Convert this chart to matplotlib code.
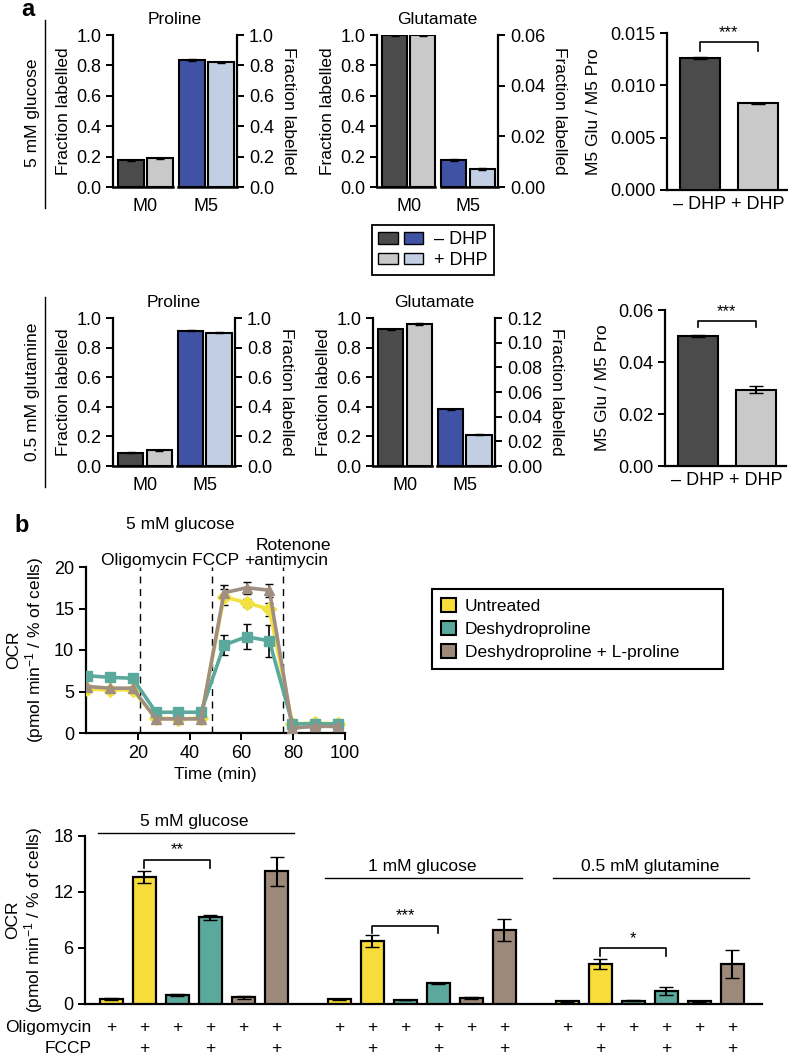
import numpy as np
import matplotlib.pyplot as plt
from matplotlib.patches import Patch
from matplotlib.lines import Line2D
from matplotlib.legend_handler import HandlerTuple

plt.rcParams['font.family'] = ['Liberation Sans', 'DejaVu Sans']
plt.rcParams['font.size'] = 12.5
plt.rcParams['xtick.labelsize'] = 13
plt.rcParams['ytick.labelsize'] = 13
plt.rcParams['axes.linewidth'] = 1.6
plt.rcParams['xtick.major.width'] = 1.4
plt.rcParams['ytick.major.width'] = 1.4
plt.rcParams['xtick.major.size'] = 5
plt.rcParams['ytick.major.size'] = 5
plt.rcParams['mathtext.default'] = 'regular'

# ---------------- data: panel a ----------------
iso_labels = ['M0', 'M5']
dhp_labels = ['\u2013 DHP', '+ DHP']

pro_glc_m0 = [0.175, 0.19]
pro_glc_m5 = [0.835, 0.82]
glu_glc_m0 = [0.997, 0.998]
glu_glc_m5 = [0.0107, 0.0071]
ratio_glc = [0.0126, 0.0083]
ratio_glc_err = [0.00012, 0.00005]

pro_gln_m0 = [0.09, 0.105]
pro_gln_m5 = [0.915, 0.90]
glu_gln_m0 = [0.925, 0.96]
glu_gln_m5 = [0.046, 0.0255]
ratio_gln = [0.050, 0.0294]
ratio_gln_err = [0.0004, 0.0014]

# ---------------- data: panel b (time course) ----------------
times = [0.5, 9.3, 18, 27, 35.7, 44.4, 53.3, 62, 70.8, 79.7, 88.5, 97.3]
ocr_untreated = [5.3, 5.2, 5.2, 1.8, 1.7, 1.8, 16.4, 15.7, 14.9, 1.1, 1.2, 1.1]
ocr_dhp = [6.9, 6.7, 6.6, 2.5, 2.5, 2.5, 10.6, 11.6, 11.1, 1.1, 1.1, 1.1]
ocr_dhp_pro = [5.6, 5.4, 5.4, 1.7, 1.7, 1.7, 16.9, 17.5, 17.2, 0.6, 0.8, 0.8]
err_untreated = [0.2, 0.2, 0.2, 0.1, 0.1, 0.1, 1.0, 0.5, 0.8, 0.1, 0.1, 0.1]
err_dhp = [0.3, 0.2, 0.2, 0.2, 0.1, 0.1, 1.2, 1.5, 1.9, 0.1, 0.1, 0.1]
err_dhp_pro = [0.2, 0.2, 0.2, 0.1, 0.1, 0.1, 0.9, 0.7, 0.8, 0.1, 0.1, 0.1]
injections = [21, 48.5, 76]

# ---------------- data: panel b (bars) ----------------
conditions = ['5 mM glucose', '1 mM glucose', '0.5 mM glutamine']
oligo = ['+', '+', '+', '+', '+', '+']
fccp = ['', '+', '', '+', '', '+']
ocr_bars = [[0.5, 13.6, 0.95, 9.3, 0.7, 14.2],
            [0.5, 6.75, 0.43, 2.2, 0.6, 7.9],
            [0.3, 4.25, 0.35, 1.43, 0.3, 4.28]]
ocr_bars_err = [[0.1, 0.6, 0.1, 0.25, 0.12, 1.6],
                [0.05, 0.6, 0.05, 0.07, 0.1, 1.2],
                [0.05, 0.55, 0.05, 0.43, 0.07, 1.5]]
sig_labels = ['**', '***', '*']
sig_levels = [15.4, 8.4, 5.95]
cond_line_y = [18.3, 13.5, 13.5]

dark, light = '#4b4b4b', '#c9c9c9'
blue, lblue = '#4052a3', '#c2cee3'
yellow, teal, brown = '#f7dc3a', '#5aa99c', '#9c897a'
bar_cols = [yellow, yellow, teal, teal, brown, brown]

W, H = 788, 1059
fig = plt.figure(figsize=(W / 100, H / 100), dpi=100)


def px_axes(left, top, right, bottom):
    return fig.add_axes([left / W, 1 - bottom / H, (right - left) / W, (bottom - top) / H])


def iso_panel(ax, m0, m5, m5_max, m5_ticks, m5_fmt, title):
    p0 = np.array([0.0, 1.0])
    p5 = np.array([2.1, 3.1])
    w = 0.88
    ax.bar(p0, m0, width=w, color=[dark, light], edgecolor='black', lw=1.5,
           yerr=[0.004, 0.004], error_kw=dict(capsize=3, lw=1), zorder=3)
    ax2 = ax.twinx()
    ax2.bar(p5, m5, width=w, color=[blue, lblue], edgecolor='black', lw=1.5,
            yerr=[m5_max * 0.004] * 2, error_kw=dict(capsize=3, lw=1), zorder=3)
    ax.set_xlim(-0.62, 3.66)
    ax.set_ylim(0, 1)
    ax2.set_ylim(0, m5_max)
    ax.set_yticks(np.arange(0, 1.01, 0.2))
    ax.set_yticklabels(['%.1f' % v for v in np.arange(0, 1.01, 0.2)])
    ax2.set_yticks(m5_ticks)
    ax2.set_yticklabels([m5_fmt % v for v in m5_ticks])
    for a in (ax, ax2):
        a.spines['top'].set_visible(False)
        a.spines['bottom'].set_visible(False)
    ax.spines['right'].set_visible(False)
    ax2.spines['left'].set_visible(False)
    ax.set_xticks([p0.mean(), p5.mean()])
    ax.set_xticklabels(iso_labels)
    ax.tick_params(axis='x', length=0, pad=8)
    ax.plot([-0.62, p0[1] + w / 2], [0, 0], color='black', lw=1.8, clip_on=False, zorder=4)
    ax.plot([p5[0] - w / 2 - 0.02, 3.66], [0, 0], color='black', lw=1.8, clip_on=False, zorder=4)
    ax.set_ylabel('Fraction labelled', labelpad=4)
    ax2.set_ylabel('Fraction labelled', rotation=270, labelpad=16)
    ax.set_title(title, pad=8, fontsize=12.5)


def ratio_panel(ax, vals, errs, ymax, ticks, fmt, level, drop):
    pos = np.arange(2)
    ax.bar(pos, vals, width=0.69, color=[dark, light], edgecolor='black', lw=1.5,
           yerr=errs, error_kw=dict(capsize=5, lw=1.5), zorder=3)
    ax.set_xlim(-0.57, 1.52)
    ax.set_ylim(0, ymax)
    ax.set_yticks(ticks)
    ax.set_yticklabels([fmt % v for v in ticks])
    ax.set_xticks(pos)
    ax.set_xticklabels(dhp_labels)
    ax.tick_params(axis='x', length=0, pad=4)
    ax.spines['top'].set_visible(False)
    ax.spines['right'].set_visible(False)
    ax.plot([0, 0, 1, 1], [level - drop, level, level, level - drop], color='black', lw=1.2)
    ax.text(0.5, level + drop * 0.3, '***', ha='center', va='bottom', fontsize=12)
    ax.set_ylabel('M5 Glu / M5 Pro', labelpad=6)


# ---------------- panel a ----------------
ax = px_axes(113, 35, 237, 187)
iso_panel(ax, pro_glc_m0, pro_glc_m5, 1.0, np.arange(0, 1.01, 0.2), '%.1f', 'Proline')
ax = px_axes(377, 35, 498, 187)
iso_panel(ax, glu_glc_m0, glu_glc_m5, 0.06, np.arange(0, 0.061, 0.02), '%.2f', 'Glutamate')
ax = px_axes(667, 33, 788, 190)
ratio_panel(ax, ratio_glc, ratio_glc_err, 0.015, np.arange(0, 0.0151, 0.005), '%.3f', 0.0141, 0.0008)

ax = px_axes(113, 318, 235, 466)
iso_panel(ax, pro_gln_m0, pro_gln_m5, 1.0, np.arange(0, 1.01, 0.2), '%.1f', 'Proline')
ax = px_axes(373, 318, 495, 466)
iso_panel(ax, glu_gln_m0, glu_gln_m5, 0.12, np.arange(0, 0.121, 0.02), '%.2f', 'Glutamate')
ax = px_axes(665, 310, 786, 466)
ratio_panel(ax, ratio_gln, ratio_gln_err, 0.06, np.arange(0, 0.061, 0.02), '%.2f', 0.0559, 0.0026)

fig.text(28 / W, 1 - 10 / H, 'a', fontsize=17, fontweight='bold', ha='center', va='center')
fig.text(33 / W, 1 - 113 / H, '5 mM glucose', rotation=90, ha='center', va='center')
fig.add_artist(Line2D([45 / W, 45 / W], [1 - 20 / H, 1 - 208 / H], color='black', lw=1))
fig.text(33 / W, 1 - 392 / H, '0.5 mM glutamine', rotation=90, ha='center', va='center')
fig.add_artist(Line2D([45 / W, 45 / W], [1 - 297 / H, 1 - 487 / H], color='black', lw=1))

leg_a = fig.legend(handles=[(Patch(fc=dark, ec='black'), Patch(fc=blue, ec='black')),
                            (Patch(fc=light, ec='black'), Patch(fc=lblue, ec='black'))],
                   labels=dhp_labels,
                   handler_map={tuple: HandlerTuple(ndivide=None, pad=0.3)},
                   loc='upper left', bbox_to_anchor=(372 / W, 1 - 225 / H),
                   handlelength=2.5, handleheight=0.6, fancybox=False,
                   edgecolor='black', framealpha=1, borderpad=0.35, labelspacing=0.2,
                   handletextpad=0.6, borderaxespad=0, fontsize=13)
leg_a.get_frame().set_linewidth(1.3)

# ---------------- panel b: time course ----------------
fig.text(22 / W, 1 - 525 / H, 'b', fontsize=17, fontweight='bold', ha='center', va='center')
ax = px_axes(86, 567, 345, 733)
series = [(ocr_untreated, err_untreated, '#f2e241', 'D', 'Untreated'),
          (ocr_dhp, err_dhp, teal, 's', 'Deshydroproline'),
          (ocr_dhp_pro, err_dhp_pro, '#a08e80', '^', 'Deshydroproline + L-proline')]
for vals, errs, col, mk, lab in series:
    ax.errorbar(times, vals, yerr=errs, color=col, marker=mk, ms=7, lw=2.6,
                ecolor='black', elinewidth=1.2, capsize=3, zorder=3)
for t in injections:
    ax.axvline(t, color='black', ls=(0, (5, 4)), lw=1, zorder=1)
ax.set_xlim(0, 100)
ax.set_ylim(0, 20)
ax.set_xticks([20, 40, 60, 80, 100])
ax.set_yticks([0, 5, 10, 15, 20])
ax.spines['top'].set_visible(False)
ax.spines['right'].set_visible(False)
ax.set_xlabel('Time (min)', labelpad=4)
ax.set_ylabel('OCR\n(pmol min$^{-1}$ / % of cells)', labelpad=6, linespacing=1.1)

fig.text(180 / W, 1 - 524 / H, '5 mM glucose', ha='center', va='center')
fig.text(239 / W, 1 - 560 / H, 'Oligomycin FCCP', ha='right', va='center')
fig.text(244 / W, 1 - 560 / H, '+antimycin', ha='left', va='center')
fig.text(331 / W, 1 - 545 / H, 'Rotenone', ha='right', va='center')

leg_b = fig.legend(handles=[Patch(fc=yellow, ec='black', lw=1.5, label='Untreated'),
                            Patch(fc=teal, ec='black', lw=1.5, label='Deshydroproline'),
                            Patch(fc=brown, ec='black', lw=1.5, label='Deshydroproline + L-proline')],
                   loc='upper left', bbox_to_anchor=(432 / W, 1 - 670 / H, 291 / W, 81 / H),
                   mode='expand', handlelength=0.9, handleheight=0.9, fancybox=False,
                   edgecolor='black', framealpha=1, borderpad=0.5, labelspacing=0.4,
                   handletextpad=0.5, borderaxespad=0)
leg_b.get_frame().set_linewidth(1.5)

# ---------------- panel b: bars ----------------
ax = px_axes(85, 836, 762, 1004)
for g, (vals, errs) in enumerate(zip(ocr_bars, ocr_bars_err)):
    x = g * 6.9 + np.arange(6)
    ax.bar(x, vals, width=0.7, color=bar_cols, edgecolor='black', lw=1.6,
           yerr=errs, error_kw=dict(capsize=5, lw=1.5), zorder=3)
    ax.plot([x[0] - 0.42, x[-1] + 0.52], [cond_line_y[g]] * 2, color='black', lw=1, clip_on=False)
    ax.text((x[0] + x[-1]) / 2, cond_line_y[g] + 0.45, conditions[g], ha='center', va='bottom')
    lv = sig_levels[g]
    ax.plot([x[1], x[1], x[3], x[3]], [lv - 0.8, lv, lv, lv - 0.8], color='black', lw=1.2, clip_on=False)
    ax.text((x[1] + x[3]) / 2, lv + 0.3, sig_labels[g], ha='center', va='bottom', fontsize=12)
    for xi, o, f in zip(x, oligo, fccp):
        ax.text(xi, -2.57, o, ha='center', va='center', clip_on=False)
        ax.text(xi, -4.8, f, ha='center', va='center', clip_on=False)
ax.text(-0.6, -2.57, 'Oligomycin', ha='right', va='center')
ax.text(-0.6, -4.8, 'FCCP', ha='right', va='center')
ax.set_xlim(-0.8, 19.7)
ax.set_ylim(0, 18)
ax.set_yticks([0, 6, 12, 18])
ax.set_xticks([])
ax.spines['top'].set_visible(False)
ax.spines['right'].set_visible(False)
ax.set_ylabel('OCR\n(pmol min$^{-1}$ / % of cells)', labelpad=6, linespacing=1.1)

fig.savefig('out.png', dpi=100)
